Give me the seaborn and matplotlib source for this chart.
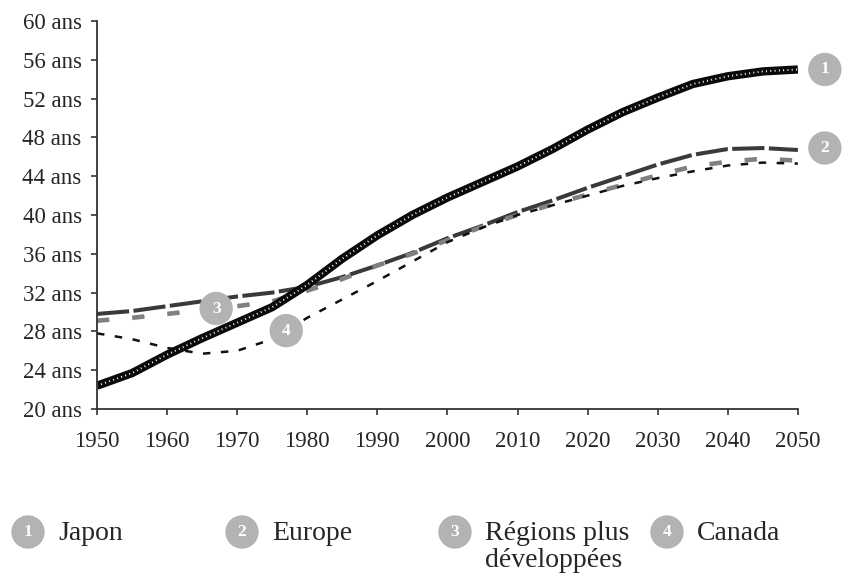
import numpy as np
import pandas as pd
import matplotlib
matplotlib.use("Agg")
import matplotlib.pyplot as plt
import seaborn as sns

# median age, 5-year steps
years = list(range(1950, 2051, 5))
japon = [22.4, 23.7, 25.6, 27.3, 28.9, 30.5, 32.8, 35.5, 37.9, 40.0, 41.8,
         43.4, 45.0, 46.8, 48.8, 50.6, 52.1, 53.5, 54.3, 54.8, 55.0]
europe = [29.8, 30.1, 30.6, 31.1, 31.6, 32.0, 32.6, 33.6, 34.8, 36.1, 37.6,
          38.9, 40.3, 41.5, 42.8, 44.0, 45.2, 46.2, 46.8, 46.9, 46.7]
regions = [29.1, 29.4, 29.8, 30.2, 30.6, 31.1, 32.2, 33.4, 34.8, 36.0, 37.4,
           38.8, 40.0, 41.1, 42.1, 43.1, 44.1, 45.0, 45.5, 45.8, 45.6]
canada = [27.8, 27.2, 26.3, 25.7, 26.0, 27.2, 29.4, 31.3, 33.2, 35.2, 37.2,
          38.7, 40.0, 41.0, 42.0, 43.0, 43.8, 44.5, 45.1, 45.4, 45.3]
y_ticks = list(range(20, 61, 4))
x_ticks = list(range(1950, 2051, 10))
legend_names = ["Japon", "Europe", "Régions plus\ndéveloppées", "Canada"]

sns.set_style("white")
plt.rcParams['font.family'] = ['Liberation Serif', 'DejaVu Serif']

df = pd.DataFrame({"year": years, "Japon": japon, "Europe": europe,
                   "Regions": regions, "Canada": canada})

fig = plt.figure(figsize=(8.47, 5.73), dpi=100)
ax = fig.add_axes([0.1145, 0.2862, 0.8275, 0.6772])

sns.lineplot(data=df, x="year", y="Europe", ax=ax, color="#3a3a3a",
             lw=2.9, linestyle=(0, (8, 1.1)))
sns.lineplot(data=df, x="year", y="Regions", ax=ax, color="#808080",
             lw=3.3, linestyle=(0, (2.7, 5.0)))
sns.lineplot(data=df, x="year", y="Canada", ax=ax, color="#111111",
             lw=1.8, linestyle=(0, (3.0, 4.2)))
sns.lineplot(data=df, x="year", y="Japon", ax=ax, color="#0a0a0a",
             lw=6.0, solid_capstyle="butt")
sns.lineplot(data=df, x="year", y="Japon", ax=ax, color="white",
             lw=1.4, linestyle=(0, (0.5, 1.7)))

ax.set_xlim(1950, 2050)
ax.set_ylim(20, 60)
ax.set_xticks(x_ticks)
ax.set_yticks(y_ticks)
ax.set_yticklabels([f"{v} ans" for v in y_ticks])
ax.set_xlabel("")
ax.set_ylabel("")
ax.tick_params(axis="both", direction="out", length=4, width=1.2,
               color="#333333", labelsize=16.5, left=True, bottom=True)
ax.tick_params(axis="x", pad=12)
ax.tick_params(axis="y", pad=7)
sns.despine(ax=ax)
for s in ["left", "bottom"]:
    ax.spines[s].set_color("#333333")
    ax.spines[s].set_linewidth(1.3)

circ = dict(boxstyle="circle,pad=0.5", fc="#b3b3b3", ec="none")
num_kw = dict(color="white", fontsize=12.5, fontweight="bold",
              ha="center", va="center", bbox=circ)

# labels on the chart
ax.annotate("1", (years[-1], japon[-1]), xytext=(27, 0),
            textcoords="offset pixels", annotation_clip=False, **num_kw)
ax.annotate("2", (years[-1], europe[-1]), xytext=(27, 2),
            textcoords="offset pixels", annotation_clip=False, **num_kw)
ax.annotate("3", (1967, np.interp(1967, years, regions)), xytext=(0, 0),
            textcoords="offset pixels", **num_kw)
ax.annotate("4", (1977, np.interp(1977, years, canada)), xytext=(0, 0),
            textcoords="offset pixels", **num_kw)

# legend below
leg_x = [28, 242, 455, 667]
for i, name in enumerate(legend_names):
    fig.text(leg_x[i] / 847, 1 - 532 / 573, str(i + 1), **num_kw)
    fig.text((leg_x[i] + 30) / 847, 1 - 521 / 573, name, fontsize=20,
             ha="left", va="top", linespacing=1.08)

fig.savefig("out.png", dpi=100)
